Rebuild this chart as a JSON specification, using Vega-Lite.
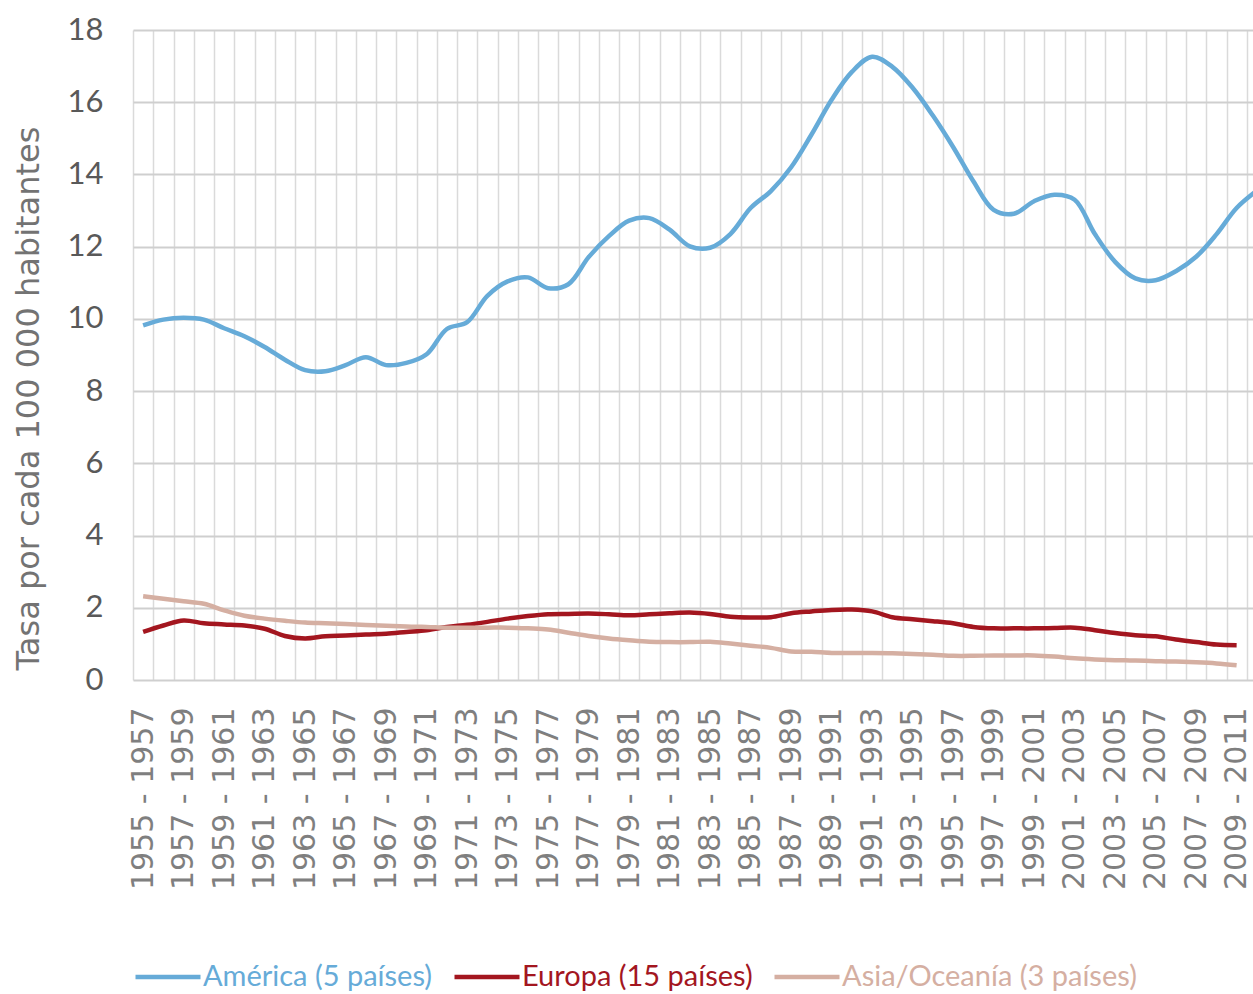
{
"$schema": "https://vega.github.io/schema/vega-lite/v6.json",
"width": 1120,
"height": 650,
"autosize": {"type": "none"},
"padding": {"left": 133, "top": 30, "right": 0, "bottom": 314},
"background": "white",
"config": {"view": {"stroke": null}},
"data": {"values": [
{"p":"1955 - 1957","r":"América (5 países)","v":9.82},
{"p":"1956 - 1958","r":"América (5 países)","v":9.98},
{"p":"1957 - 1959","r":"América (5 países)","v":10.03},
{"p":"1958 - 1960","r":"América (5 países)","v":9.98},
{"p":"1959 - 1961","r":"América (5 países)","v":9.74},
{"p":"1960 - 1962","r":"América (5 países)","v":9.52},
{"p":"1961 - 1963","r":"América (5 países)","v":9.22},
{"p":"1962 - 1964","r":"América (5 países)","v":8.87},
{"p":"1963 - 1965","r":"América (5 países)","v":8.58},
{"p":"1964 - 1966","r":"América (5 países)","v":8.55},
{"p":"1965 - 1967","r":"América (5 países)","v":8.72},
{"p":"1966 - 1968","r":"América (5 países)","v":8.94},
{"p":"1967 - 1969","r":"América (5 países)","v":8.72},
{"p":"1968 - 1970","r":"América (5 países)","v":8.78},
{"p":"1969 - 1971","r":"América (5 países)","v":9.02},
{"p":"1970 - 1972","r":"América (5 países)","v":9.72},
{"p":"1971 - 1973","r":"América (5 países)","v":9.91},
{"p":"1972 - 1974","r":"América (5 países)","v":10.64},
{"p":"1973 - 1975","r":"América (5 países)","v":11.04},
{"p":"1974 - 1976","r":"América (5 países)","v":11.15},
{"p":"1975 - 1977","r":"América (5 países)","v":10.85},
{"p":"1976 - 1978","r":"América (5 países)","v":10.96},
{"p":"1977 - 1979","r":"América (5 países)","v":11.71},
{"p":"1978 - 1980","r":"América (5 países)","v":12.29},
{"p":"1979 - 1981","r":"América (5 países)","v":12.72},
{"p":"1980 - 1982","r":"América (5 países)","v":12.79},
{"p":"1981 - 1983","r":"América (5 países)","v":12.47},
{"p":"1982 - 1984","r":"América (5 países)","v":12.01},
{"p":"1983 - 1985","r":"América (5 países)","v":11.97},
{"p":"1984 - 1986","r":"América (5 países)","v":12.35},
{"p":"1985 - 1987","r":"América (5 países)","v":13.07},
{"p":"1986 - 1988","r":"América (5 países)","v":13.54},
{"p":"1987 - 1989","r":"América (5 países)","v":14.2},
{"p":"1988 - 1990","r":"América (5 países)","v":15.1},
{"p":"1989 - 1991","r":"América (5 países)","v":16.07},
{"p":"1990 - 1992","r":"América (5 países)","v":16.84},
{"p":"1991 - 1993","r":"América (5 países)","v":17.26},
{"p":"1992 - 1994","r":"América (5 países)","v":16.98},
{"p":"1993 - 1995","r":"América (5 países)","v":16.4},
{"p":"1994 - 1996","r":"América (5 países)","v":15.63},
{"p":"1995 - 1997","r":"América (5 países)","v":14.76},
{"p":"1996 - 1998","r":"América (5 países)","v":13.81},
{"p":"1997 - 1999","r":"América (5 países)","v":13.02},
{"p":"1998 - 2000","r":"América (5 países)","v":12.91},
{"p":"1999 - 2001","r":"América (5 países)","v":13.26},
{"p":"2000 - 2002","r":"América (5 países)","v":13.44},
{"p":"2001 - 2003","r":"América (5 países)","v":13.3},
{"p":"2002 - 2004","r":"América (5 países)","v":12.35},
{"p":"2003 - 2005","r":"América (5 países)","v":11.58},
{"p":"2004 - 2006","r":"América (5 países)","v":11.12},
{"p":"2005 - 2007","r":"América (5 países)","v":11.07},
{"p":"2006 - 2008","r":"América (5 países)","v":11.32},
{"p":"2007 - 2009","r":"América (5 países)","v":11.72},
{"p":"2008 - 2010","r":"América (5 países)","v":12.34},
{"p":"2009 - 2011","r":"América (5 países)","v":13.07},
{"p":"2010 - 2012","r":"América (5 países)","v":13.55},
{"p":"1955 - 1957","r":"Europa (15 países)","v":1.33},
{"p":"1956 - 1958","r":"Europa (15 países)","v":1.51},
{"p":"1957 - 1959","r":"Europa (15 países)","v":1.65},
{"p":"1958 - 1960","r":"Europa (15 países)","v":1.57},
{"p":"1959 - 1961","r":"Europa (15 países)","v":1.54},
{"p":"1960 - 1962","r":"Europa (15 países)","v":1.51},
{"p":"1961 - 1963","r":"Europa (15 países)","v":1.42},
{"p":"1962 - 1964","r":"Europa (15 países)","v":1.22},
{"p":"1963 - 1965","r":"Europa (15 países)","v":1.15},
{"p":"1964 - 1966","r":"Europa (15 países)","v":1.21},
{"p":"1965 - 1967","r":"Europa (15 países)","v":1.23},
{"p":"1966 - 1968","r":"Europa (15 países)","v":1.26},
{"p":"1967 - 1969","r":"Europa (15 países)","v":1.28},
{"p":"1968 - 1970","r":"Europa (15 países)","v":1.33},
{"p":"1969 - 1971","r":"Europa (15 países)","v":1.38},
{"p":"1970 - 1972","r":"Europa (15 países)","v":1.47},
{"p":"1971 - 1973","r":"Europa (15 países)","v":1.53},
{"p":"1972 - 1974","r":"Europa (15 países)","v":1.61},
{"p":"1973 - 1975","r":"Europa (15 países)","v":1.7},
{"p":"1974 - 1976","r":"Europa (15 países)","v":1.77},
{"p":"1975 - 1977","r":"Europa (15 países)","v":1.82},
{"p":"1976 - 1978","r":"Europa (15 países)","v":1.83},
{"p":"1977 - 1979","r":"Europa (15 países)","v":1.84},
{"p":"1978 - 1980","r":"Europa (15 países)","v":1.82},
{"p":"1979 - 1981","r":"Europa (15 países)","v":1.79},
{"p":"1980 - 1982","r":"Europa (15 países)","v":1.82},
{"p":"1981 - 1983","r":"Europa (15 países)","v":1.85},
{"p":"1982 - 1984","r":"Europa (15 países)","v":1.87},
{"p":"1983 - 1985","r":"Europa (15 países)","v":1.83},
{"p":"1984 - 1986","r":"Europa (15 países)","v":1.75},
{"p":"1985 - 1987","r":"Europa (15 países)","v":1.73},
{"p":"1986 - 1988","r":"Europa (15 países)","v":1.74},
{"p":"1987 - 1989","r":"Europa (15 países)","v":1.85},
{"p":"1988 - 1990","r":"Europa (15 países)","v":1.9},
{"p":"1989 - 1991","r":"Europa (15 países)","v":1.94},
{"p":"1990 - 1992","r":"Europa (15 países)","v":1.95},
{"p":"1991 - 1993","r":"Europa (15 países)","v":1.9},
{"p":"1992 - 1994","r":"Europa (15 países)","v":1.74},
{"p":"1993 - 1995","r":"Europa (15 países)","v":1.68},
{"p":"1994 - 1996","r":"Europa (15 países)","v":1.63},
{"p":"1995 - 1997","r":"Europa (15 países)","v":1.57},
{"p":"1996 - 1998","r":"Europa (15 países)","v":1.47},
{"p":"1997 - 1999","r":"Europa (15 países)","v":1.43},
{"p":"1998 - 2000","r":"Europa (15 países)","v":1.43},
{"p":"1999 - 2001","r":"Europa (15 países)","v":1.43},
{"p":"2000 - 2002","r":"Europa (15 países)","v":1.44},
{"p":"2001 - 2003","r":"Europa (15 países)","v":1.45},
{"p":"2002 - 2004","r":"Europa (15 países)","v":1.38},
{"p":"2003 - 2005","r":"Europa (15 países)","v":1.3},
{"p":"2004 - 2006","r":"Europa (15 países)","v":1.24},
{"p":"2005 - 2007","r":"Europa (15 países)","v":1.21},
{"p":"2006 - 2008","r":"Europa (15 países)","v":1.12},
{"p":"2007 - 2009","r":"Europa (15 países)","v":1.05},
{"p":"2008 - 2010","r":"Europa (15 países)","v":0.98},
{"p":"2009 - 2011","r":"Europa (15 países)","v":0.96},
{"p":"1955 - 1957","r":"Asia/Oceanía (3 países)","v":2.32},
{"p":"1956 - 1958","r":"Asia/Oceanía (3 países)","v":2.25},
{"p":"1957 - 1959","r":"Asia/Oceanía (3 países)","v":2.18},
{"p":"1958 - 1960","r":"Asia/Oceanía (3 países)","v":2.11},
{"p":"1959 - 1961","r":"Asia/Oceanía (3 países)","v":1.93},
{"p":"1960 - 1962","r":"Asia/Oceanía (3 países)","v":1.78},
{"p":"1961 - 1963","r":"Asia/Oceanía (3 países)","v":1.7},
{"p":"1962 - 1964","r":"Asia/Oceanía (3 países)","v":1.64},
{"p":"1963 - 1965","r":"Asia/Oceanía (3 países)","v":1.59},
{"p":"1964 - 1966","r":"Asia/Oceanía (3 países)","v":1.57},
{"p":"1965 - 1967","r":"Asia/Oceanía (3 países)","v":1.55},
{"p":"1966 - 1968","r":"Asia/Oceanía (3 países)","v":1.52},
{"p":"1967 - 1969","r":"Asia/Oceanía (3 países)","v":1.5},
{"p":"1968 - 1970","r":"Asia/Oceanía (3 países)","v":1.48},
{"p":"1969 - 1971","r":"Asia/Oceanía (3 países)","v":1.47},
{"p":"1970 - 1972","r":"Asia/Oceanía (3 países)","v":1.45},
{"p":"1971 - 1973","r":"Asia/Oceanía (3 países)","v":1.45},
{"p":"1972 - 1974","r":"Asia/Oceanía (3 países)","v":1.45},
{"p":"1973 - 1975","r":"Asia/Oceanía (3 países)","v":1.45},
{"p":"1974 - 1976","r":"Asia/Oceanía (3 países)","v":1.43},
{"p":"1975 - 1977","r":"Asia/Oceanía (3 países)","v":1.4},
{"p":"1976 - 1978","r":"Asia/Oceanía (3 países)","v":1.31},
{"p":"1977 - 1979","r":"Asia/Oceanía (3 países)","v":1.22},
{"p":"1978 - 1980","r":"Asia/Oceanía (3 países)","v":1.15},
{"p":"1979 - 1981","r":"Asia/Oceanía (3 países)","v":1.1},
{"p":"1980 - 1982","r":"Asia/Oceanía (3 países)","v":1.06},
{"p":"1981 - 1983","r":"Asia/Oceanía (3 países)","v":1.05},
{"p":"1982 - 1984","r":"Asia/Oceanía (3 países)","v":1.05},
{"p":"1983 - 1985","r":"Asia/Oceanía (3 países)","v":1.06},
{"p":"1984 - 1986","r":"Asia/Oceanía (3 países)","v":1.01},
{"p":"1985 - 1987","r":"Asia/Oceanía (3 países)","v":0.95},
{"p":"1986 - 1988","r":"Asia/Oceanía (3 países)","v":0.89},
{"p":"1987 - 1989","r":"Asia/Oceanía (3 países)","v":0.79},
{"p":"1988 - 1990","r":"Asia/Oceanía (3 países)","v":0.78},
{"p":"1989 - 1991","r":"Asia/Oceanía (3 países)","v":0.75},
{"p":"1990 - 1992","r":"Asia/Oceanía (3 países)","v":0.75},
{"p":"1991 - 1993","r":"Asia/Oceanía (3 países)","v":0.75},
{"p":"1992 - 1994","r":"Asia/Oceanía (3 países)","v":0.74},
{"p":"1993 - 1995","r":"Asia/Oceanía (3 países)","v":0.72},
{"p":"1994 - 1996","r":"Asia/Oceanía (3 países)","v":0.7},
{"p":"1995 - 1997","r":"Asia/Oceanía (3 países)","v":0.67},
{"p":"1996 - 1998","r":"Asia/Oceanía (3 países)","v":0.67},
{"p":"1997 - 1999","r":"Asia/Oceanía (3 países)","v":0.68},
{"p":"1998 - 2000","r":"Asia/Oceanía (3 países)","v":0.68},
{"p":"1999 - 2001","r":"Asia/Oceanía (3 países)","v":0.68},
{"p":"2000 - 2002","r":"Asia/Oceanía (3 países)","v":0.65},
{"p":"2001 - 2003","r":"Asia/Oceanía (3 países)","v":0.6},
{"p":"2002 - 2004","r":"Asia/Oceanía (3 países)","v":0.57},
{"p":"2003 - 2005","r":"Asia/Oceanía (3 países)","v":0.55},
{"p":"2004 - 2006","r":"Asia/Oceanía (3 países)","v":0.54},
{"p":"2005 - 2007","r":"Asia/Oceanía (3 países)","v":0.52},
{"p":"2006 - 2008","r":"Asia/Oceanía (3 países)","v":0.51},
{"p":"2007 - 2009","r":"Asia/Oceanía (3 países)","v":0.49},
{"p":"2008 - 2010","r":"Asia/Oceanía (3 países)","v":0.46},
{"p":"2009 - 2011","r":"Asia/Oceanía (3 países)","v":0.41}
]},
"mark": {"type": "line", "interpolate": "catmull-rom", "strokeWidth": 4.5, "clip": true},
"encoding": {
"x": {"field": "p", "type": "nominal", "bandPosition": 0.5,
 "scale": {"type": "band", "range": [0, 1134], "paddingInner": 0, "paddingOuter": 0},
 "axis": {"title": null, "domain": false, "ticks": false, "grid": true, "gridColor": "#dadada", "gridWidth": 1.5, "tickBand": "extent",
  "labelAngle": 270, "labelFont": "DejaVu Sans", "labelFontSize": 30, "labelColor": "#7f7f7f", "labelPadding": 27,
  "labelOverlap": false, "labelBound": false, "labelLimit": 400,
  "labelExpr": "toNumber(substring(datum.value,0,4)) % 2 == 1 ? datum.value : ''"}},
"y": {"field": "v", "type": "quantitative",
 "scale": {"domain": [0, 18], "nice": false},
 "axis": {"values": [0,2,4,6,8,10,12,14,16,18], "title": "Tasa por cada 100 000 habitantes",
  "titleFont": "DejaVu Sans", "titleFontSize": 32, "titleFontWeight": "normal", "titleColor": "#737373",
  "titleX": -105, "titleY": 368, "titleBaseline": "middle", "titleAngle": 270, "titleLimit": 800,
  "domain": false, "ticks": false, "grid": true, "gridColor": "#cfcfcf", "gridWidth": 2,
  "labelFont": "Lato", "labelFontSize": 31, "labelColor": "#595959", "labelPadding": 30}},
"color": {"field": "r", "type": "nominal",
 "scale": {"domain": ["América (5 países)", "Europa (15 países)", "Asia/Oceanía (3 países)"], "range": ["#66abd8", "#a3161f", "#d5afa2"]},
 "legend": {"orient": "none", "legendX": 0, "legendY": 912, "direction": "horizontal", "title": null,
  "symbolType": "stroke", "symbolSize": 4225, "symbolStrokeWidth": 4.5, "labelOffset": 0, "columnPadding": 12, "padding": 0,
  "labelFont": "Lato", "labelFontSize": 29, "labelLimit": 500,
  "encode": {"labels": {"update": {"fill": {"signal": "scale('color', datum.value)"}}}}}}
}
}
